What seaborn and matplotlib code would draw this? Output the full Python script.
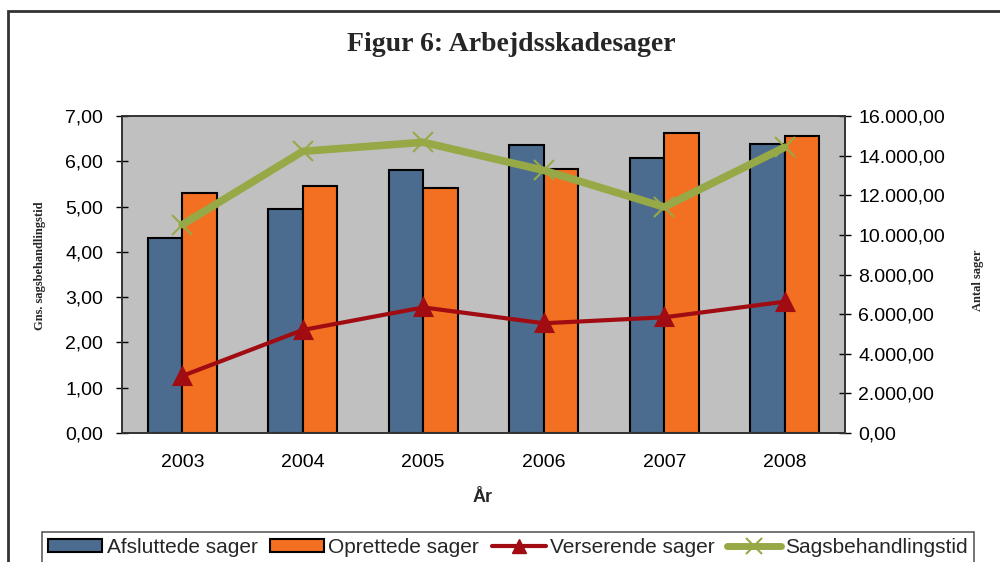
import matplotlib
matplotlib.use("Agg")
import pandas as pd
import matplotlib.pyplot as plt
import seaborn as sns
from matplotlib.patches import Patch, Rectangle
from matplotlib.lines import Line2D
from matplotlib.ticker import FuncFormatter, FixedLocator, MultipleLocator

# data
years = ["2003", "2004", "2005", "2006", "2007", "2008"]
afsluttede = [9830, 11290, 13290, 14550, 13860, 14580]
oprettede = [12130, 12450, 12380, 13310, 15150, 14980]
verserende = [2880, 5200, 6340, 5540, 5840, 6630]
sagsbehandlingstid = [4.60, 6.22, 6.42, 5.80, 4.99, 6.31]

BLUE = "#4B6C8F"
ORANGE = "#F36F21"
RED = "#A00C12"
GREEN = "#97A947"
GRAY = "#C0C0C0"

sns.set_style("white")
plt.rcParams["font.family"] = ["Liberation Sans", "DejaVu Sans"]
SERIF = ["Liberation Serif", "DejaVu Serif"]


def dk(v, pos=None):
    # Danish number format: 16.000,00
    s = f"{v:,.2f}"
    return s.replace(",", "X").replace(".", ",").replace("X", ".")


bars = pd.DataFrame({
    "year": years * 2,
    "antal": afsluttede + oprettede,
    "serie": ["Afsluttede sager"] * 6 + ["Oprettede sager"] * 6,
})

fig = plt.figure(figsize=(10, 5.62), dpi=100)
fig.subplots_adjust(left=0.122, right=0.845, bottom=0.2295, top=0.7936)
ax = fig.add_subplot(111)
ax.set_facecolor(GRAY)

# counts (bars + pending cases) on the primary axes, shown on the right side
sns.barplot(data=bars, x="year", y="antal", hue="serie", palette=[BLUE, ORANGE],
            width=0.575, gap=0, saturation=1, edgecolor="black", linewidth=1.5,
            errorbar=None, legend=False, ax=ax)
sns.pointplot(x=years, y=verserende, color=RED, marker="^", markersize=11,
              linewidth=3, errorbar=None, ax=ax)

# average processing time on the twin axes, shown on the left side
ax2 = ax.twinx()
sns.pointplot(x=years, y=sagsbehandlingstid, color=GREEN, marker="x",
              markersize=14, markeredgewidth=1.5, linewidth=5.5,
              errorbar=None, ax=ax2)

ax.set_xlim(-0.5, 5.5)
ax.set_ylim(0, 16000)
ax2.set_ylim(0, 7)
ax.yaxis.set_major_locator(MultipleLocator(2000))
ax2.yaxis.set_major_locator(MultipleLocator(1))
ax.yaxis.set_major_formatter(FuncFormatter(dk))
ax2.yaxis.set_major_formatter(FuncFormatter(dk))

ax.yaxis.tick_right()
ax2.yaxis.tick_left()
ax.set_xlabel("")
ax.set_ylabel("")
ax2.set_ylabel("")

ax.xaxis.set_minor_locator(FixedLocator([i - 0.5 for i in range(len(years) + 1)]))
ax.tick_params(axis="x", which="major", length=0, labelsize=14, pad=15, colors="black")
ax.tick_params(axis="x", which="minor", direction="inout", length=10, width=1, color="black")
ax.tick_params(axis="y", direction="inout", length=9, width=1, labelsize=14, pad=5,
               colors="black", right=True, left=False, labelright=True, labelleft=False)
ax2.tick_params(axis="y", direction="inout", length=9, width=1, labelsize=14, pad=9,
                colors="black", left=True, right=False, labelleft=True, labelright=False)

for a in (ax, ax2):
    for sp in a.spines.values():
        sp.set_color("#333333")
        sp.set_linewidth(1.2)

fig.text(0.511, 0.920, "Figur 6: Arbejdsskadesager", ha="center", va="center",
         fontsize=20, fontweight="bold", family=SERIF)
fig.text(0.040, 0.528, "Gns. sagsbehandlingstid", rotation=90, ha="center", va="center",
         fontsize=9, fontweight="bold", family=SERIF)
fig.text(0.978, 0.502, "Antal sager", rotation=90, ha="center", va="center",
         fontsize=9, fontweight="bold", family=SERIF)
fig.text(0.483, 0.114, "År", ha="center", va="center", fontsize=13, fontweight="bold")

# outer chart frame (cut at right and bottom like the source)
fig.patches.append(Rectangle((0.008, -0.1), 1.2, 0.98 + 0.1, transform=fig.transFigure,
                             fill=False, edgecolor="#333333", linewidth=2))

handles = [
    Patch(facecolor=BLUE, edgecolor="black", linewidth=1.5, label="Afsluttede sager"),
    Patch(facecolor=ORANGE, edgecolor="black", linewidth=1.5, label="Oprettede sager"),
    Line2D([], [], color=RED, linewidth=3, marker="^", markersize=10, label="Verserende sager"),
    Line2D([], [], color=GREEN, linewidth=5, marker="x", markersize=12,
           markeredgewidth=1.5, label="Sagsbehandlingstid"),
]
leg = fig.legend(handles=handles, loc="upper left", ncol=4,
                 bbox_to_anchor=(0.042, 0.054), fontsize=15,
                 frameon=True, fancybox=False, handlelength=2.6, handleheight=0.55,
                 handletextpad=0.2, columnspacing=0.6, borderpad=0.3, borderaxespad=0)
leg.get_frame().set_edgecolor("#333333")
leg.get_frame().set_linewidth(1.2)

fig.savefig("out.png", dpi=100)
